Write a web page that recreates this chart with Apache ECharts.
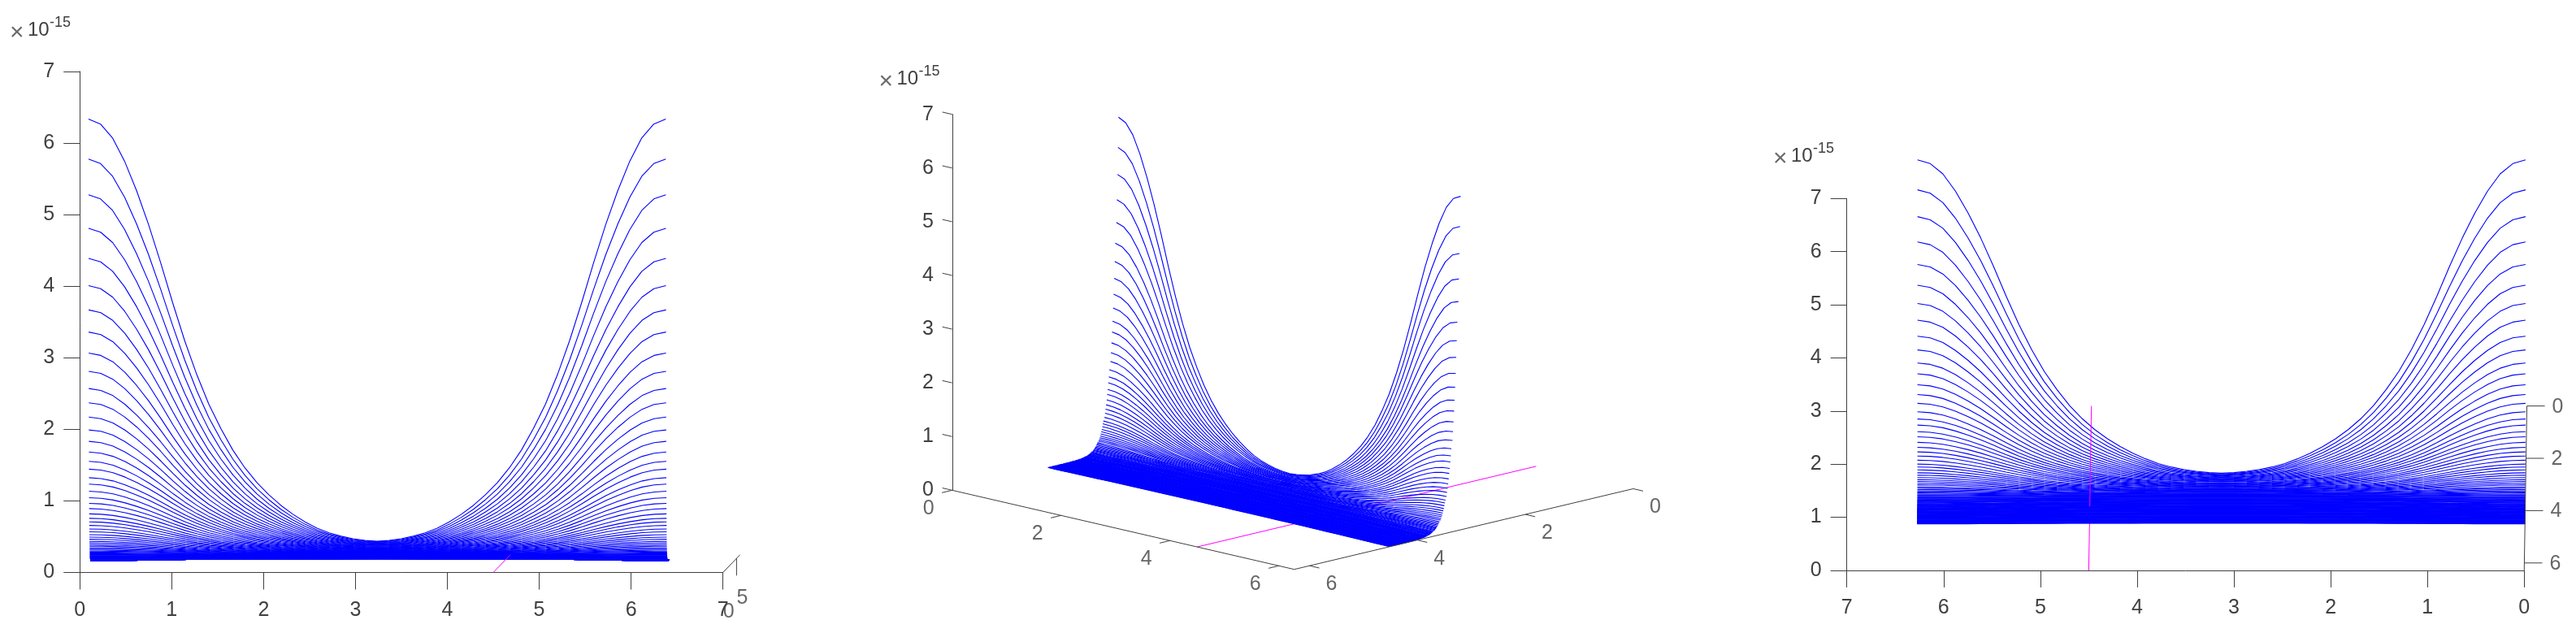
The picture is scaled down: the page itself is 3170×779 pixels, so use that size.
<!DOCTYPE html>
<html lang="en">
<head>
    <meta charset="UTF-8">
    <title>Title</title>
    <script src="https://cdn.jsdelivr.net/npm/echarts@6/dist/echarts.min.js"></script>
</head>
<body style="margin:0;background:#fff;">
<div id="main" style="width: 3170px;height: 779px;"></div>
<script>
    // sampled x positions of every curve
    var curveX = [0,.131,.262,.393,.524,.654,.785,.916,1.047,1.178,1.309,1.44,1.571,1.702,1.833,1.963,2.094,2.225,2.356,2.487,2.618,2.749,2.88,3.011,3.142,
        3.272,3.403,3.534,3.665,3.796,3.927,4.058,4.189,4.32,4.451,4.581,4.712,4.843,4.974,5.105,5.236,5.367,5.498,5.629,5.76,5.891,6.021,6.152,6.283];
    // shape of the top curve, 1 at the ends and 0 in the middle
    var curveShape = [1,.988,.955,.9,.83,.75,.66,.565,.475,.395,.325,.267,.216,.174,.139,.11,.085,.064,.046,.031,.02,.012,.006,.002,0,
        .002,.006,.012,.02,.031,.046,.064,.085,.11,.139,.174,.216,.267,.325,.395,.475,.565,.66,.75,.83,.9,.955,.988,1];
    // depth position of each curve
    var curveTime = [
        3.20,3.21,3.22,3.23,3.24,3.26,3.27,3.28,3.29,3.30,
        3.31,3.32,3.33,3.34,3.35,3.37,3.38,3.39,3.40,3.41,
        3.42,3.43,3.44,3.45,3.46,3.48,3.49,3.50,3.51,3.52,
        3.53,3.54,3.55,3.56,3.57,3.59,3.60,3.61,3.62,3.63,
        3.64,3.65,3.66,3.67,3.68,3.70,3.71,3.72,3.73,3.74,
        3.75,3.76,3.77,3.78,3.79,3.81,3.82,3.83,3.84,3.85,
        3.86,3.87,3.88,3.89,3.90,3.92,3.93,3.94,3.95,3.96,
        3.97,3.98,3.99,4.00,4.01,4.03,4.04,4.05,4.06,4.07,
        4.08,4.09,4.10,4.11,4.12,4.14,4.15,4.16,4.17,4.18,
        4.19,4.20,4.21,4.22,4.23,4.25,4.26,4.27,4.28,4.29,
        4.30,4.31,4.32,4.33,4.34,4.36,4.37,4.38,4.39,4.40,
        4.41,4.42,4.43,4.44,4.45,4.47,4.48,4.49,4.50,4.51];
    // height at the two ends of each curve (x 1e-15)
    var curveEdge = [
        6.21,5.65,5.15,4.68,4.26,3.88,3.54,3.23,2.935,2.68,
        2.44,2.24,2.04,1.86,1.70,1.55,1.42,1.31,1.19,1.10,
        1.00,.91,.83,.757,.683,.62,.57,.52,.47,.43,
        .39,.355,.325,.295,.27,.245,.225,.205,.187,.17,
        .155,.14,.128,.117,.106,.097,.088,.08,.073,.067,
        .061,.055,.05,.046,.042,.038,.035,.032,.029,.026,
        .024,.022,.02,.018,.016,.015,.014,.012,.011,.01,
        .009,.008,.0075,.007,.006,.0055,.005,.0045,.004,.0037,
        .0033,.003,.0027,.0025,.0023,.002,.0018,.0016,.0015,.0013,
        .0012,.0011,.001,.0009,.0008,.0007,.0007,.0006,.0005,.0005,
        .0004,.0004,.0003,.0003,.0003,.0002,.0002,.0002,.0002,.0001,
        .0001,.0001,.0001,.0001,.0001,.0001,.0001,.0001,.0001,.0001];
    // height in the middle of each curve (x 1e-15)
    var curveMid = [
        .31,.302,.295,.287,.28,.273,.266,.26,.253,.247,
        .241,.235,.229,.223,.218,.212,.207,.202,.197,.192,
        .187,.182,.178,.173,.169,.165,.161,.157,.153,.149,
        .145,.142,.138,.135,.131,.128,.125,.122,.119,.116,
        .113,.11,.107,.104,.102,.099,.097,.094,.092,.09,
        .087,.085,.083,.081,.079,.077,.075,.073,.071,.07,
        .068,.066,.064,.063,.061,.06,.058,.057,.055,.054,
        .053,.051,.05,.049,.047,.046,.045,.044,.043,.042,
        .041,.04,.039,.038,.037,.036,.035,.034,.033,.032,
        .031,.03,.03,.029,.028,.027,.027,.026,.025,.025,
        .024,.023,.023,.022,.022,.021,.021,.02,.02,.019,
        .019,.018,.018,.017,.017,.016,.016,.016,.015,.015];
    var pinkX = 4.5;
    var depthMax = 6.283;
    var xMax = 6.283;
    var tickValues = [0,1,2,3,4,5,6,7];
    var floorTicks = [0,2,4,6];

    var AXIS_COLOR = '#404040';
    var TEXT_COLOR = '#404040';
    var FONT = '"Liberation Sans", Arial, sans-serif';
    var LAYER = 3;      // marks live on wider hidden axes, grids 3,4,5

    // the three camera positions, each gives axis units of its own grid
    function viewFront(x, t, z) {
        return [x + 0.0295 * t, z + 0.0393 * t];
    }
    function viewOblique(x, t, z) {
        return [6.307 + 1.0136 * x - 1.0045 * t, 1.501 - 0.2345 * x - 0.239 * t + z];
    }
    function viewBack(x, t, z) {
        return [x - 0.0044 * (depthMax - t), z + 0.4925 * (depthMax - t)];
    }

    function lineSeries(gridIndex, points, color, width) {
        return {
            type: 'line',
            xAxisIndex: gridIndex + LAYER,
            yAxisIndex: gridIndex + LAYER,
            data: points,
            showSymbol: false,
            symbol: 'none',
            clip: false,
            silent: true,
            animation: false,
            lineStyle: {color: color, width: width}
        };
    }

    function segment(gridIndex, view, a, b, color) {
        return lineSeries(gridIndex, [view(a[0], a[1], a[2]), view(b[0], b[1], b[2])], color || AXIS_COLOR, 1);
    }

    function curveSeries(gridIndex, view) {
        var list = [];
        for (var k = 0; k < curveTime.length; k++) {
            var pts = [];
            for (var i = 0; i < curveX.length; i++) {
                var z = curveMid[k] + (curveEdge[k] - curveMid[k]) * curveShape[i];
                pts.push(view(curveX[i], curveTime[k], z));
            }
            list.push(lineSeries(gridIndex, pts, '#0000ff', 1.1));
        }
        return list;
    }

    // tick text on the axes the library has no axis for
    function labelSeries(gridIndex, items, offset) {
        return {
            type: 'scatter',
            xAxisIndex: gridIndex + LAYER,
            yAxisIndex: gridIndex + LAYER,
            symbolSize: 1,
            clip: false,
            silent: true,
            animation: false,
            itemStyle: {color: 'rgba(0,0,0,0)'},
            label: {
                show: true,
                position: 'inside',
                offset: offset,
                fontSize: 25,
                fontFamily: FONT,
                color: TEXT_COLOR,
                formatter: '{b}'
            },
            data: items
        };
    }

    var series = [];

    // left view, the pink line sits over the curves
    series = series.concat(curveSeries(0, viewFront));
    series.push(segment(0, viewFront, [pinkX, 0, 0], [pinkX, depthMax, 0], '#ff00ff'));
    series.push(segment(0, viewFront, [7, 0, 0], [7, depthMax, 0]));
    series.push(segment(0, viewFront, [7, 5, 0], [7, 5, -0.24]));
    series.push(labelSeries(0, [
        {name: '0', value: viewFront(7, 0, 0)},
        {name: '5', value: viewFront(7, 5, 0)}
    ], [7, 49]));

    // middle view, the pink line is under the curves
    series.push(segment(1, viewOblique, [pinkX, 0, 0], [pinkX, depthMax, 0], '#ff00ff'));
    series = series.concat(curveSeries(1, viewOblique));
    series.push(segment(1, viewOblique, [0, depthMax, 0], [xMax, depthMax, 0]));
    series.push(segment(1, viewOblique, [xMax, depthMax, 0], [xMax, 0, 0]));
    var xLabels = [], tLabels = [];
    floorTicks.forEach(function (v) {
        series.push(segment(1, viewOblique, [v, depthMax, 0], [v, depthMax + 0.19, 0]));
        series.push(segment(1, viewOblique, [xMax, v, 0], [xMax + 0.18, v, 0]));
        xLabels.push({name: String(v), value: viewOblique(v, depthMax, 0)});
        tLabels.push({name: String(v), value: viewOblique(xMax, v, 0)});
    });
    tickValues.forEach(function (v) {
        series.push(segment(1, viewOblique, [0, depthMax, v], [-0.18, depthMax, v]));
    });
    series.push(labelSeries(1, xLabels, [-29, 23]));
    series.push(labelSeries(1, tLabels, [27, 23]));

    // right view, the pink line goes behind the solid part of the curves only
    series.push(segment(2, viewBack, [pinkX, 3.84, 0], [pinkX, depthMax, 0], '#ff00ff'));
    series = series.concat(curveSeries(2, viewBack));
    series.push(segment(2, viewBack, [pinkX, 0, 0], [pinkX, 3.84, 0], '#ff00ff'));
    series.push(segment(2, viewBack, [0, 0, 0], [0, depthMax, 0]));
    var backLabels = [];
    floorTicks.forEach(function (v) {
        series.push(segment(2, viewBack, [0, v, 0], [-0.185, v, 0]));
        backLabels.push({name: String(v), value: viewBack(0, v, 0)});
    });
    series.push(labelSeries(2, backLabels, [38, 1]));

    function makeXAxis(gridIndex, visible, inverse, max) {
        return {
            type: 'value',
            gridIndex: gridIndex,
            show: visible,
            min: 0,
            max: max,
            interval: 1,
            inverse: inverse,
            axisLine: {onZero: false, lineStyle: {color: AXIS_COLOR, width: 1}},
            axisTick: {show: true, inside: false, length: 21, lineStyle: {color: AXIS_COLOR}},
            axisLabel: {margin: 34, fontSize: 25, fontFamily: FONT, color: TEXT_COLOR, showMinLabel: true, showMaxLabel: true},
            splitLine: {show: false}
        };
    }
    function makeYAxis(gridIndex, showTick, margin) {
        return {
            type: 'value',
            gridIndex: gridIndex,
            position: 'left',
            min: 0,
            max: 7,
            interval: 1,
            axisLine: {show: true, onZero: false, lineStyle: {color: AXIS_COLOR, width: 1}},
            axisTick: {show: showTick, length: 20, lineStyle: {color: AXIS_COLOR}},
            axisLabel: {margin: margin, fontSize: 25, fontFamily: FONT, color: TEXT_COLOR, showMinLabel: true, showMaxLabel: true},
            splitLine: {show: false}
        };
    }
    function hiddenXAxis(gridIndex, min, max, inverse) {
        return {type: 'value', gridIndex: gridIndex, show: false, min: min, max: max, inverse: inverse};
    }
    function hiddenYAxis(gridIndex) {
        return {type: 'value', gridIndex: gridIndex, show: false, min: 0, max: 7};
    }

    // the x10^-15 note above each view, one text per part
    function exponent(dx, dy) {
        return [
            {type: 'text', x: 12 + dx, y: 26 + dy, style: {text: '×', font: 'lighter 30px ' + FONT, fill: '#6a6a6a'}},
            {type: 'text', x: 34 + dx, y: 25 + dy, style: {text: '10', font: '24px ' + FONT, fill: TEXT_COLOR}},
            {type: 'text', x: 61 + dx, y: 19 + dy, style: {text: '-15', font: '18px ' + FONT, fill: TEXT_COLOR}}
        ];
    }

    var myChart = echarts.init(document.getElementById('main'));
    var option = {
        backgroundColor: '#ffffff',
        animation: false,
        graphic: exponent(0, 0).concat(exponent(1069.5, 60), exponent(2170, 155)),
        grid: [
            {left: 98.2, top: 87.9, width: 791.5, height: 616.6},
            {left: 1172, top: 140.7, width: 859.3, height: 462.6},
            {left: 2272.7, top: 244.3, width: 833.6, height: 457.6},
            {left: 98.2, top: 87.9, width: 904.6, height: 616.6},
            {left: 1105.9, top: 140.7, width: 925.4, height: 462.6},
            {left: 2272.7, top: 244.3, width: 869.3, height: 457.6}
        ],
        xAxis: [
            makeXAxis(0, true, false, 7),
            makeXAxis(1, false, false, 13),
            makeXAxis(2, true, true, 7),
            hiddenXAxis(3, 0, 8, false),
            hiddenXAxis(4, -1, 13, false),
            hiddenXAxis(5, -0.3, 7, true)
        ],
        yAxis: [
            makeYAxis(0, true, 31),
            makeYAxis(1, false, 23),
            makeYAxis(2, true, 31),
            hiddenYAxis(3),
            hiddenYAxis(4),
            hiddenYAxis(5)
        ],
        series: series
    };
    myChart.setOption(option);
</script>
</body>
</html>
